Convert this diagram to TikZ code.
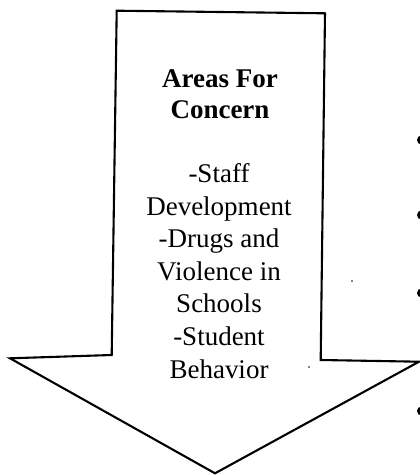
\documentclass[tikz,border=0pt]{standalone}
\usepackage{fontspec}
\setmainfont{Liberation Serif}
\begin{document}
\begin{tikzpicture}[x=1pt,y=-1pt,
  arrowline/.style={draw=black,line width=2.1pt,line join=miter,fill=white},
  title/.style={font=\fontsize{27}{31}\selectfont\bfseries,align=center,anchor=base,inner sep=0pt},
  body/.style={font=\fontsize{27}{32.6}\selectfont,align=center,anchor=base,inner sep=0pt},
  bulletdot/.style={fill=black,draw=none}]
\useasboundingbox (0,0) rectangle (420,475);
\draw[arrowline] (116.7,10.7) -- (325,13.3) -- (320.7,360) -- (419,361.7)
  -- (215,473.3) -- (10,358.3) -- (111.7,355) -- cycle;
\node[title] (head) at (220,118) {Areas For\\Concern};
\node[body] (list) at (219,378) {-Staff\\Development\\-Drugs and\\Violence in\\Schools\\-Student\\Behavior};
\fill[bulletdot] (421.5,140) circle (4.5);
\fill[bulletdot] (421.5,215) circle (4.5);
\fill[bulletdot] (421.5,293) circle (4.5);
\fill[bulletdot] (421.5,411) circle (4.5);
\fill[bulletdot] (352,281) circle (0.8);
\fill[bulletdot] (309,367) circle (0.8);
\end{tikzpicture}
\end{document}
